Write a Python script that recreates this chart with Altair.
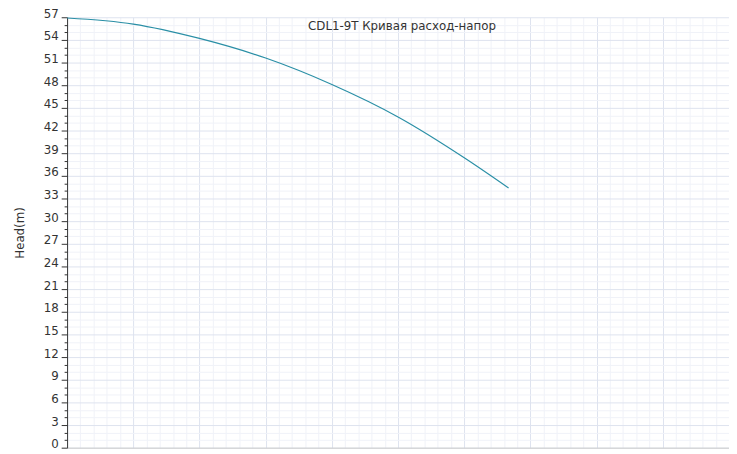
import altair as alt
import pandas as pd

flow = [0, 1, 2, 3, 4, 5, 6, 6.67]
head = [56.9, 56.1, 54.2, 51.6, 48.1, 43.8, 38.4, 34.4]
y_ticks = [round(i * 0.5, 1) for i in range(0, 115)]
x_ticks = [round(i * 0.2, 1) for i in range(0, 51)]
title_text = "CDL1-9T Кривая расход-напор"

df = pd.DataFrame({"flow": flow, "head": head})

FONT = "DejaVu Sans"

chart = alt.Chart(df).mark_line(
    interpolate="monotone", color="#2a8fa6", strokeWidth=1.2
).encode(
    x=alt.X("flow:Q", scale=alt.Scale(domain=[0, 10], nice=False, zero=True),
            axis=alt.Axis(values=x_ticks, labels=False, ticks=False, title=None,
                          domainColor="#cccccc",
                          grid=True,
                          gridColor={"condition": {"test": "abs(datum.value - round(datum.value)) < 0.01", "value": "#dde3ef"}, "value": "#f0f2f8"},
                          gridWidth=1)),
    y=alt.Y("head:Q", scale=alt.Scale(domain=[0, 57], nice=False),
            axis=alt.Axis(values=y_ticks, title="Head(m)", titleFont=FONT, titleFontSize=12,
                          titleFontWeight="normal", titleColor="#333333", titlePadding=17,
                          format="d",
                          labelFont=FONT, labelFontSize=12, labelColor="#333333",
                          labelExpr="(round(datum.value * 2) % 6 == 0) ? format(datum.value, 'd') : ''",
                          labelOffset=-4, labelPadding=3, labelBound=False, labelOverlap=False,
                          labelFlush=False,
                          domainColor="#333333", tickColor="#333333",
                          tickSize={"condition": {"test": "round(datum.value * 2) % 6 == 0", "value": 6}, "value": 3},
                          grid=True,
                          gridColor={"condition": {"test": "round(datum.value * 2) % 6 == 0", "value": "#dde3ef"}, "value": "#f0f2f8"})),
).properties(
    width=672, height=437,
    padding={"left": 60, "top": 6, "right": 0, "bottom": 3},
    autosize=alt.AutoSizeParams(type="none"),
    title=alt.TitleParams(title_text, font=FONT, fontSize=12, fontWeight="normal",
                          color="#333333", anchor="middle", dy=30, dx=4),
).configure_view(stroke=None)

chart.save("out.html", embed_options={"renderer": "svg", "actions": False})
